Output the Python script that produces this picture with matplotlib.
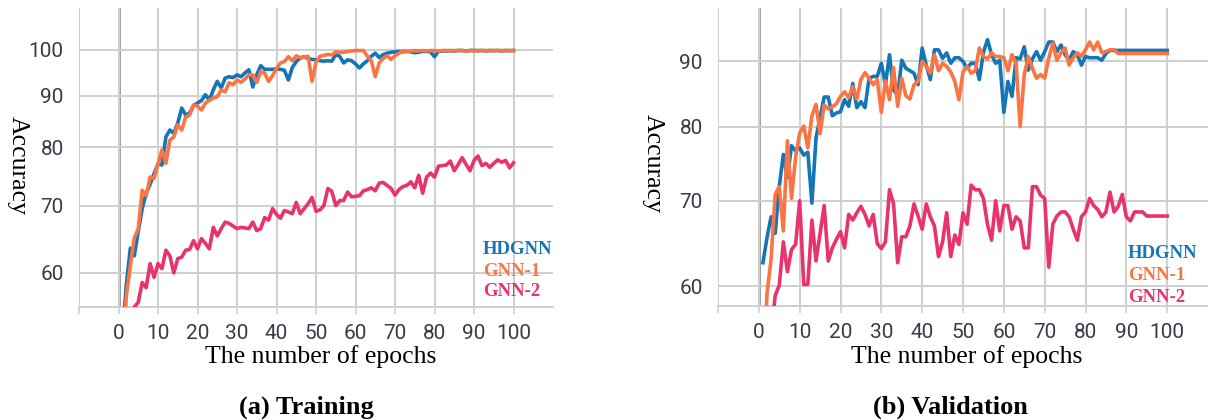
import matplotlib.pyplot as plt
import numpy as np
from matplotlib.ticker import NullLocator, FixedLocator

epochs = np.arange(1, 101)

# (a) Training accuracy
train_hdgnn = [52, 58.5, 63.5, 62.4, 66, 69.5, 72, 73.5, 75.3, 77,
               76.8, 81.9, 83.2, 82.6, 84.5, 87.5, 86.1, 86.5, 88, 88.5,
               89, 90.2, 89.1, 91.2, 93, 91.6, 93.7, 94, 93.8, 94.4,
               94, 94.8, 95.5, 91.8, 94.4, 96.4, 95.6, 95.6, 95.6, 95.7,
               95.6, 95.4, 93.3, 96, 97.3, 98.1, 98.4, 98, 97.8, 97.7,
               97.5, 97.4, 97.5, 97.4, 98.9, 98.5, 97, 97.7, 97.5, 96.8,
               95.9, 96.8, 97.5, 98.5, 99.2, 98.2, 98.9, 99.2, 99.4, 99.5,
               99.6, 99.5, 99.6, 99.5, 99.3, 99.4, 99.6, 99.6, 99.5, 98.4,
               99.6, 99.7, 99.7, 99.8, 99.7, 99.8, 99.8, 99.7, 99.8, 99.8,
               99.8, 99.8, 99.7, 99.8, 99.8, 99.8, 99.7, 99.8, 99.8, 99.8]
train_gnn1 = [50, 57, 61, 65, 66.4, 72.5, 71.6, 74.7, 74.5, 77,
              79.5, 77.1, 81.3, 81.9, 84.2, 83.2, 85.7, 86.1, 88.1, 87.9,
              87.1, 88.5, 89.1, 89.5, 89.8, 91.2, 90.8, 92.7, 92.3, 93.3,
              92.8, 93.5, 94.4, 94.4, 92.8, 95.1, 94.8, 93, 94.2, 95.8,
              97, 97.3, 98.4, 97.5, 98.6, 98.2, 98.3, 98.5, 93, 97.2,
              98.5, 98.7, 98.9, 98.8, 99.5, 99.4, 99.4, 99.6, 99.7, 99.8,
              99.8, 99.8, 98.5, 97.5, 94, 97, 98, 98.6, 97.8, 98.6,
              99.2, 99.7, 99.6, 99.7, 99.8, 99.7, 99.8, 99.7, 99.8, 99.8,
              99.7, 99.8, 99.8, 99.7, 99.8, 99.8, 99.8, 99.7, 99.8, 99.8,
              99.7, 99.8, 99.8, 99.8, 99.7, 99.8, 99.8, 99.8, 99.7, 99.8]
train_gnn2 = [48, 50, 52.5, 55.5, 56.1, 58.7, 58, 61.3, 59.4, 61.3,
              60.6, 63.2, 62.4, 60, 62, 62.2, 63.2, 63.3, 64.6, 63.4,
              64.9, 64.2, 63.4, 66.6, 65.3, 66.4, 67.4, 67.2, 66.8, 66.4,
              66.6, 66.5, 66.4, 67.4, 66.1, 66.4, 68.1, 67.7, 69.5, 68.6,
              68, 69.2, 69, 68.7, 70.5, 68.7, 69.5, 70.3, 71.3, 69.1,
              69.3, 70, 72.8, 72.3, 70, 70.8, 70.8, 72.2, 71.4, 71.5,
              71.6, 72.4, 72.6, 72.9, 72.4, 73.7, 73.8, 73.3, 72.8, 71.7,
              72.6, 73.1, 73.3, 73.9, 72.9, 75, 72, 74.7, 75.4, 74.7,
              76.6, 76.7, 76.8, 77.5, 75.8, 76.9, 78.1, 76.9, 75.8, 77.6,
              78.4, 76.7, 77.1, 76.4, 77.1, 77.7, 77.3, 77.6, 76.3, 77.2]

# (b) Validation accuracy
val_hdgnn = [62.6, 65.5, 68, 66, 71.8, 76.1, 73, 77.3, 76.6, 77,
             76, 76.4, 69.7, 78.4, 81.3, 84.4, 84.4, 81.6, 82, 82.2,
             84, 83, 86.5, 82.8, 83.7, 82.8, 87.3, 87.6, 87.6, 89.7,
             86.3, 91.1, 85.5, 84.6, 90.2, 88.9, 88.5, 88.1, 86.3, 92.2,
             89.4, 87.1, 91.9, 91.9, 90.5, 91.4, 89.7, 90.6, 90.6, 90,
             88.9, 89.7, 89.7, 87.1, 91.5, 93.6, 91.1, 89.7, 90.2, 82.1,
             86.8, 84.5, 90.6, 90.4, 92.4, 88.6, 90.4, 91.6, 90.2, 91.6,
             93.2, 93.2, 91.6, 92.7, 91.1, 90.2, 91.6, 91.1, 89.4, 90.8,
             90.6, 90.6, 90.6, 90.2, 91.3, 91.8, 91.8, 91.8, 91.8, 91.8,
             91.8, 91.8, 91.8, 91.8, 91.8, 91.8, 91.8, 91.8, 91.8, 91.8]
val_gnn1 = [50, 59.2, 63, 70.8, 71.8, 66.3, 78, 70.3, 75.7, 79.1,
            80.1, 77, 81.6, 83.3, 79, 83.2, 82.6, 82.9, 83.4, 84.5,
            85.2, 84.3, 86, 84.1, 87.1, 88.2, 87.3, 86.3, 87.1, 82.1,
            86.9, 84, 89, 83, 87.3, 84.6, 84.1, 86.3, 86.8, 90,
            89.2, 88.1, 91.1, 88.5, 89.7, 89.2, 88.3, 86.8, 84, 88.3,
            89.2, 88.1, 88.5, 92.2, 90.8, 90.4, 91.4, 90.8, 90.8, 90.6,
            88.5, 91.1, 89.7, 80, 87.9, 90.8, 88.9, 87.3, 87.9, 87.3,
            90.5, 93, 90.2, 91.4, 92.2, 89.4, 90.6, 91.4, 90.8, 91.9,
            93.2, 91.9, 93.2, 91.4, 91.6, 91.9, 91.9, 91.3, 91.3, 91.3,
            91.3, 91.3, 91.3, 91.3, 91.3, 91.3, 91.3, 91.3, 91.3, 91.3]
val_gnn2 = [48, 52, 55, 59, 60.1, 65, 61.6, 64.1, 64.7, 70,
            60.2, 60.2, 67.6, 62.8, 66, 69.4, 62.8, 64.3, 65.3, 66.2,
            64.3, 68.3, 67.6, 68.5, 69.3, 68.3, 66.9, 68.3, 64.8, 64.2,
            65, 71.4, 69.6, 62.6, 65.6, 65.6, 66.9, 69.6, 68.1, 66.5,
            69.6, 68, 66.9, 63.3, 65, 68.5, 63.3, 65.8, 64.7, 68.5,
            67.1, 72, 71.4, 71.4, 70.3, 67.1, 65.2, 70, 66.3, 69.4,
            69.4, 66.5, 68, 67.5, 64.3, 64.3, 71.8, 71.8, 70.7, 70.3,
            62.1, 67.1, 68.1, 68.6, 68.6, 68, 66.5, 65.2, 68, 68.6,
            70.3, 69.4, 68.9, 68, 68.6, 71.1, 68.6, 69.3, 70.8, 68,
            67.5, 68.6, 68.6, 68.6, 68.1, 68.1, 68.1, 68.1, 68.1, 68.1]

names = ["HDGNN", "GNN-1", "GNN-2"]
colors = ["#1476b6", "#fb7443", "#e8336f"]

W, H = 1208, 420
fig = plt.figure(figsize=(W / 100, H / 100), dpi=100)


def px_axes(x0, x1, y0, y1):
    return fig.add_axes([x0 / W, 1 - y1 / H, (x1 - x0) / W, (y1 - y0) / H])


def style(ax, ylim, yticks):
    ax.set_yscale("log")
    ax.set_xlim(-10, 110)
    ax.set_ylim(*ylim)
    ax.xaxis.set_major_locator(FixedLocator(range(-10, 101, 10)))
    ax.set_xticklabels([""] + [str(v) for v in range(0, 101, 10)])
    ax.yaxis.set_major_locator(FixedLocator(yticks))
    ax.yaxis.set_minor_locator(NullLocator())
    ax.set_yticklabels([str(v) for v in yticks])
    ax.grid(True, color="#cfcfcf", lw=1.4, zorder=0)
    ax.axvline(0, color="#959595", lw=2.0, zorder=1)
    for s in ["top", "right", "left"]:
        ax.spines[s].set_visible(False)
    ax.spines["bottom"].set_color("#cfcfcf")
    ax.spines["bottom"].set_linewidth(1.4)
    ax.tick_params(axis="x", length=5, width=1.2, color="#cfcfcf", pad=7,
                   labelsize=15, labelcolor="#3a3a48")
    ax.tick_params(axis="y", length=0, pad=11, labelsize=15,
                   labelcolor="#3a3a48")
    for lab in ax.get_xticklabels() + ax.get_yticklabels():
        lab.set_family("Roboto")


ax1 = px_axes(79, 553, 8, 307)
style(ax1, (55.5, 110), [60, 70, 80, 90, 100])
for ys, c in zip([train_hdgnn, train_gnn1, train_gnn2], colors):
    ax1.plot(epochs, ys, color=c, lw=2.6, zorder=3)

ax2 = px_axes(718, 1208, 8, 306)
style(ax2, (57.9, 99.1), [60, 70, 80, 90])
for ys, c in zip([val_hdgnn, val_gnn1, val_gnn2], colors):
    ax2.plot(epochs, ys, color=c, lw=2.6, zorder=3)

serif = "Liberation Serif"

# legends as coloured text
for x0, ys in [(483, [249, 271, 292]), (1128, [254, 276, 297])]:
    for name, c, y in zip(names, colors, ys):
        fig.text(x0 / W, 1 - y / H, name, color=c, fontsize=13.5,
                 fontweight="bold", family=serif, ha="left", va="center")

# axis labels
for x, y in [(18, 165), (653, 164)]:
    fig.text(x / W, 1 - y / H, "Accuracy", rotation=-90, fontsize=18.5,
             family=serif, ha="center", va="center")
for x in [321, 967]:
    fig.text(x / W, 1 - 357 / H, "The number of epochs", fontsize=18.5,
             family=serif, ha="center", va="center")

fig.text(306 / W, 1 - 407 / H, "(a) Training", fontsize=19,
         fontweight="bold", family=serif, ha="center", va="center")
fig.text(950 / W, 1 - 407 / H, "(b) Validation", fontsize=19,
         fontweight="bold", family=serif, ha="center", va="center")

fig.savefig("out.png", dpi=100)
